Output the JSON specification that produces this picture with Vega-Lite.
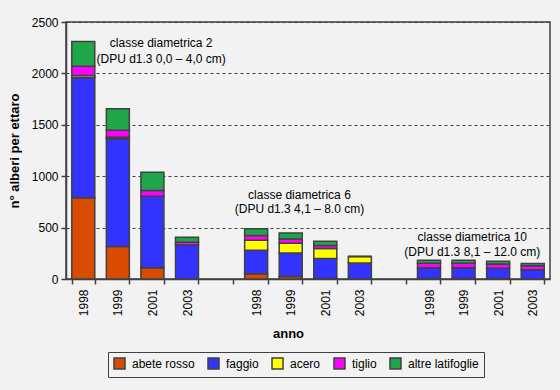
{
  "$schema": "https://vega.github.io/schema/vega-lite/v6.json",
  "autosize": {"type": "none"},
  "padding": {"left": 66, "top": 22, "right": 10, "bottom": 111},
  "width": 484,
  "height": 257,
  "background": "#f2f2f2",
  "config": {
    "font": "Liberation Sans",
    "view": {"stroke": "#404040", "strokeWidth": 1.5},
    "axis": {"labelFont": "Liberation Sans", "titleFont": "Liberation Sans", "labelFontSize": 12, "labelColor": "#000000", "domainColor": "#404040", "tickColor": "#404040", "domainWidth": 1.5, "tickWidth": 1.5, "titleFontSize": 13, "titleFontWeight": "bold", "titleColor": "#000000"}
  },
  "datasets": {
    "bars": [
      {"k": "1|1998", "sp": "abete rosso", "v": 790},
      {"k": "1|1998", "sp": "faggio", "v": 1170},
      {"k": "1|1998", "sp": "acero", "v": 20},
      {"k": "1|1998", "sp": "tiglio", "v": 90},
      {"k": "1|1998", "sp": "altre latifoglie", "v": 240},
      {"k": "1|1999", "sp": "abete rosso", "v": 315},
      {"k": "1|1999", "sp": "faggio", "v": 1050},
      {"k": "1|1999", "sp": "acero", "v": 15},
      {"k": "1|1999", "sp": "tiglio", "v": 68},
      {"k": "1|1999", "sp": "altre latifoglie", "v": 207},
      {"k": "1|2001", "sp": "abete rosso", "v": 110},
      {"k": "1|2001", "sp": "faggio", "v": 695},
      {"k": "1|2001", "sp": "acero", "v": 0},
      {"k": "1|2001", "sp": "tiglio", "v": 55},
      {"k": "1|2001", "sp": "altre latifoglie", "v": 178},
      {"k": "1|2003", "sp": "abete rosso", "v": 0},
      {"k": "1|2003", "sp": "faggio", "v": 330},
      {"k": "1|2003", "sp": "acero", "v": 0},
      {"k": "1|2003", "sp": "tiglio", "v": 27},
      {"k": "1|2003", "sp": "altre latifoglie", "v": 48},
      {"k": "2|1998", "sp": "abete rosso", "v": 50},
      {"k": "2|1998", "sp": "faggio", "v": 230},
      {"k": "2|1998", "sp": "acero", "v": 98},
      {"k": "2|1998", "sp": "tiglio", "v": 45},
      {"k": "2|1998", "sp": "altre latifoglie", "v": 65},
      {"k": "2|1999", "sp": "abete rosso", "v": 25},
      {"k": "2|1999", "sp": "faggio", "v": 228},
      {"k": "2|1999", "sp": "acero", "v": 95},
      {"k": "2|1999", "sp": "tiglio", "v": 40},
      {"k": "2|1999", "sp": "altre latifoglie", "v": 60},
      {"k": "2|2001", "sp": "abete rosso", "v": 5},
      {"k": "2|2001", "sp": "faggio", "v": 195},
      {"k": "2|2001", "sp": "acero", "v": 97},
      {"k": "2|2001", "sp": "tiglio", "v": 30},
      {"k": "2|2001", "sp": "altre latifoglie", "v": 40},
      {"k": "2|2003", "sp": "abete rosso", "v": 0},
      {"k": "2|2003", "sp": "faggio", "v": 155},
      {"k": "2|2003", "sp": "acero", "v": 63},
      {"k": "2|2003", "sp": "tiglio", "v": 0},
      {"k": "2|2003", "sp": "altre latifoglie", "v": 0},
      {"k": "3|1998", "sp": "abete rosso", "v": 5},
      {"k": "3|1998", "sp": "faggio", "v": 105},
      {"k": "3|1998", "sp": "acero", "v": 0},
      {"k": "3|1998", "sp": "tiglio", "v": 43},
      {"k": "3|1998", "sp": "altre latifoglie", "v": 30},
      {"k": "3|1999", "sp": "abete rosso", "v": 5},
      {"k": "3|1999", "sp": "faggio", "v": 105},
      {"k": "3|1999", "sp": "acero", "v": 0},
      {"k": "3|1999", "sp": "tiglio", "v": 43},
      {"k": "3|1999", "sp": "altre latifoglie", "v": 30},
      {"k": "3|2001", "sp": "abete rosso", "v": 5},
      {"k": "3|2001", "sp": "faggio", "v": 100},
      {"k": "3|2001", "sp": "acero", "v": 0},
      {"k": "3|2001", "sp": "tiglio", "v": 40},
      {"k": "3|2001", "sp": "altre latifoglie", "v": 28},
      {"k": "3|2003", "sp": "abete rosso", "v": 0},
      {"k": "3|2003", "sp": "faggio", "v": 90},
      {"k": "3|2003", "sp": "acero", "v": 0},
      {"k": "3|2003", "sp": "tiglio", "v": 38},
      {"k": "3|2003", "sp": "altre latifoglie", "v": 22}
    ],
    "notes": [
      {"k": "1|2001", "y": 2257, "t": "classe diametrica 2"},
      {"k": "1|2001", "y": 2103, "t": "(DPU d1.3 0,0 – 4,0 cm)"},
      {"k": "2|1999", "y": 775, "t": "classe diametrica 6"},
      {"k": "2|1999", "y": 639, "t": "(DPU d1.3 4,1 – 8.0 cm)"},
      {"k": "3|1999", "y": 370, "t": "classe diametrica 10"},
      {"k": "3|1999", "y": 224, "t": "(DPU d1.3 8,1 – 12.0 cm)"}
    ]
  },
  "layer": [
    {
      "data": {"name": "bars"},
      "transform": [
        {"calculate": "indexof(['abete rosso', 'faggio', 'acero', 'tiglio', 'altre latifoglie'], datum.sp)", "as": "o"}
      ],
      "mark": {"type": "bar", "stroke": "#404040", "strokeWidth": 1.5},
      "encoding": {
        "x": {
          "field": "k", "type": "nominal",
          "scale": {
            "domain": ["1|1998", "1|1999", "1|2001", "1|2003", "g1|", "2|1998", "2|1999", "2|2001", "2|2003", "g2|", "3|1998", "3|1999", "3|2001", "3|2003"],
            "paddingInner": 0.335, "paddingOuter": 0.1675
          },
          "axis": {
            "title": "anno", "labelAngle": -90, "labelPadding": 5, "tickSize": 5, "tickBand": "extent",
            "labelExpr": "split(datum.label, '|')[1]", "titlePadding": 12, "titleX": 222
          }
        },
        "y": {
          "field": "v", "type": "quantitative", "stack": "zero",
          "scale": {"domain": [0, 2500], "nice": false},
          "axis": {
            "title": "n° alberi per ettaro", "values": [0, 500, 1000, 1500, 2000, 2500], "format": "d",
            "tickSize": 5, "labelPadding": 3, "titlePadding": 10,
            "grid": true, "gridColor": "#404040", "gridDash": [3, 3], "gridWidth": 1.2
          }
        },
        "order": {"field": "o", "type": "quantitative", "sort": "ascending"},
        "color": {
          "field": "sp", "type": "nominal",
          "sort": ["abete rosso", "faggio", "acero", "tiglio", "altre latifoglie"],
          "scale": {
            "domain": ["abete rosso", "faggio", "acero", "tiglio", "altre latifoglie"],
            "range": ["#d94c00", "#3333ff", "#ffff00", "#ff00ff", "#1fa64a"]
          },
          "legend": {
            "title": null, "orient": "none", "direction": "horizontal",
            "legendX": 42, "legendY": 330,
            "padding": 5, "strokeColor": "#404040", "fillColor": null,
            "symbolType": "square", "symbolSize": 121, "symbolStrokeColor": "#404040", "symbolStrokeWidth": 1.5,
            "symbolOpacity": 1,
            "labelFont": "Liberation Sans", "labelFontSize": 12, "labelColor": "#000000",
            "columnPadding": 10, "labelOffset": 6
          }
        }
      }
    },
    {
      "data": {"name": "notes"},
      "mark": {"type": "text", "font": "Liberation Sans", "fontSize": 12, "color": "#000000", "align": "center", "baseline": "alphabetic"},
      "encoding": {
        "x": {"field": "k", "type": "nominal", "bandPosition": 0.88},
        "y": {"field": "y", "type": "quantitative"},
        "text": {"field": "t"}
      }
    }
  ]
}
